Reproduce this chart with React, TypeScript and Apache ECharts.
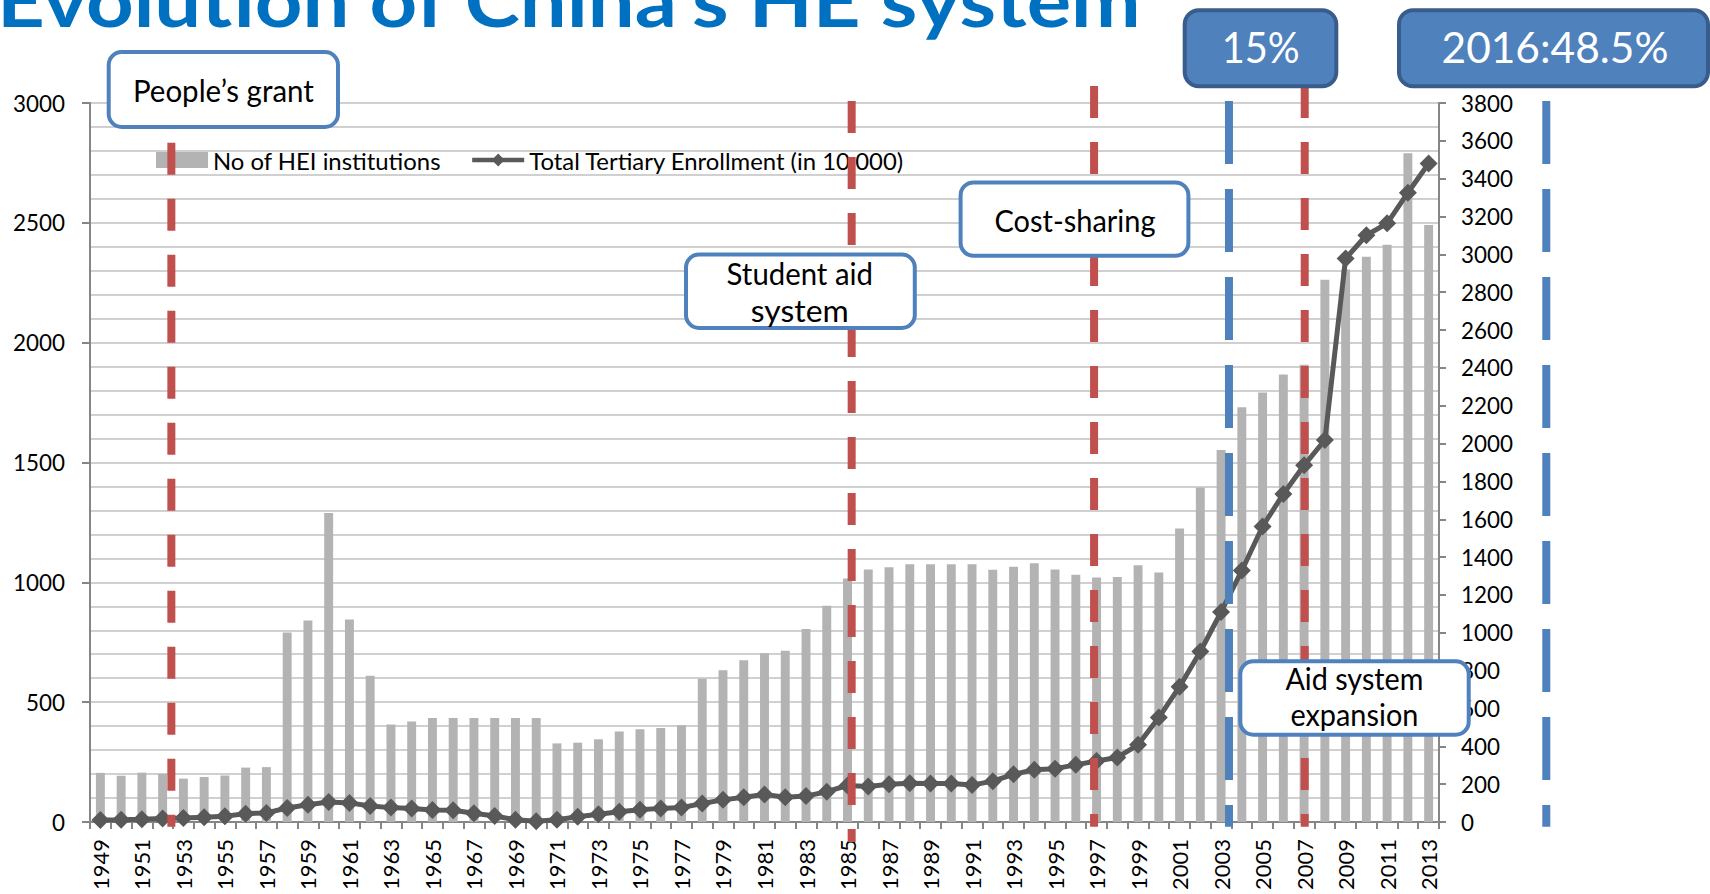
import React, { useEffect, useRef } from "react";
import * as echarts from "echarts";

// ---------------- data ----------------
const years = [
  "1949", "1950", "1951", "1952", "1953", "1954", "1955", "1956", "1957", "1958",
  "1959", "1960", "1961", "1962", "1963", "1964", "1965", "1966", "1967", "1968",
  "1969", "1970", "1971", "1972", "1973", "1974", "1975", "1976", "1977", "1978",
  "1979", "1980", "1981", "1982", "1983", "1984", "1985", "1986", "1987", "1988",
  "1989", "1990", "1991", "1992", "1993", "1994", "1995", "1996", "1997", "1998",
  "1999", "2000", "2001", "2002", "2003", "2004", "2005", "2006", "2007", "2008",
  "2009", "2010", "2011", "2012", "2013",
];

const heiInstitutions = [
  205, 193, 206, 201, 181, 188, 194, 227, 229, 791,
  841, 1289, 845, 610, 407, 419, 434, 434, 434, 434,
  434, 434, 328, 331, 345, 378, 387, 392, 404, 598,
  633, 675, 704, 715, 805, 902, 1016, 1054, 1063, 1075,
  1075, 1075, 1075, 1053, 1065, 1080, 1054, 1032, 1020, 1022,
  1071, 1041, 1225, 1396, 1552, 1731, 1792, 1867, 1908, 2263,
  2305, 2358, 2409, 2790, 2491,
];

const tertiaryEnrollment = [
  11, 12, 15, 19, 21, 25, 31, 44, 48, 74,
  91, 106, 101, 85, 76, 71, 64, 62, 46, 32,
  12, 4, 12, 28, 41, 54, 65, 72, 76, 98,
  117, 131, 146, 131, 137, 160, 193, 188, 200, 205,
  204, 204, 195, 216, 252, 276, 282, 302, 322, 341,
  408, 552, 715, 901, 1110, 1329, 1562, 1734, 1885, 2019,
  2978, 3101, 3164, 3326, 3480,
];

const seriesNames = ["No of HEI institutions", "Total Tertiary Enrollment (in 10,000)"];
const leftAxisRange = [0, 3000, 500];
const rightAxisRange = [0, 3800, 200];
const titleText = "Evolution of China\u2019s HE system";

// policy markers (position on the year axis)
const policyYears = [1952.42, 1985.2, 1996.88, 2007.03];
const milestoneYears = [2003.38, 2018.67];

const policyLabels = ["People\u2019s grant", "Student aid\nsystem", "Cost-sharing", "Aid system\nexpansion"];
const milestoneLabels = ["15%", "2016:48.5%"];

// ---------------- helpers ----------------
const FONT = "Lato";
let measureCtx: CanvasRenderingContext2D | null = null;
function measure(text: string, font: string): number {
  if (!measureCtx) measureCtx = document.createElement("canvas").getContext("2d");
  if (!measureCtx) return text.length * 10;
  measureCtx.font = font;
  return measureCtx.measureText(text).width;
}

function fitSize(sample: string, targetWidth: number, weight = "normal"): number {
  const w = measure(sample, `${weight} 20px ${FONT}`);
  return (20 * targetWidth) / w;
}

export default function App() {
  const ref = useRef<HTMLDivElement>(null);

  useEffect(() => {
    if (!ref.current) return;
    const chart = echarts.init(ref.current, undefined, { renderer: "svg" });

    const axisFont = fitSize("3000", 52);
    const xFont = fitSize("1949", 51);
    const legendFont = fitSize(seriesNames[0], 228);

    const axisLineStyle = { color: "#868686", width: 2 };
    const gridColor = "#C0C0C0";
    const plain = (v: number) => String(v);

    chart.setOption({
      animation: false,
      textStyle: { fontFamily: FONT },
      grid: { left: 90, right: 271, top: 103, bottom: 72, containLabel: false },
      legend: {
        left: 151,
        top: 143,
        padding: 5,
        itemWidth: 52,
        itemHeight: 16,
        itemGap: 29,
        textStyle: { fontSize: legendFont, color: "#000", fontFamily: FONT },
        data: [
          { name: seriesNames[0], icon: "rect" },
          { name: seriesNames[1], lineStyle: { width: 4.5, color: "#595959" } },
        ],
      },
      xAxis: {
        type: "category",
        data: years,
        boundaryGap: true,
        axisLine: { show: true, lineStyle: axisLineStyle },
        axisTick: { show: true, interval: 0, length: 7, alignWithLabel: false, lineStyle: axisLineStyle },
        axisLabel: { interval: 1, rotate: 90, fontSize: xFont, color: "#000", margin: 17, fontFamily: FONT },
        splitLine: { show: false },
      },
      yAxis: [
        {
          type: "value",
          position: "left",
          min: leftAxisRange[0],
          max: leftAxisRange[1],
          interval: leftAxisRange[2],
          axisLine: { show: true, lineStyle: axisLineStyle },
          axisTick: { show: true, length: 8, lineStyle: axisLineStyle },
          axisLabel: { fontSize: axisFont, color: "#000", margin: 25, fontFamily: FONT, formatter: plain },
          splitLine: { show: true, lineStyle: { color: gridColor, width: 1.5 } },
          minorTick: { show: false, splitNumber: 5 },
          minorSplitLine: { show: true, lineStyle: { color: gridColor, width: 1.5 } },
        },
        {
          type: "value",
          position: "right",
          min: rightAxisRange[0],
          max: rightAxisRange[1],
          interval: rightAxisRange[2],
          axisLine: { show: true, lineStyle: axisLineStyle },
          axisTick: { show: true, length: 7, lineStyle: axisLineStyle },
          axisLabel: { fontSize: axisFont, color: "#000", margin: 22, fontFamily: FONT, formatter: plain },
          splitLine: { show: false },
        },
      ],
      series: [
        {
          name: seriesNames[0],
          type: "bar",
          yAxisIndex: 0,
          data: heiInstitutions,
          barWidth: "43%",
          itemStyle: { color: "#B3B3B3" },
        },
        {
          name: seriesNames[1],
          type: "line",
          yAxisIndex: 1,
          data: tertiaryEnrollment,
          symbol: "diamond",
          symbolSize: 18,
          showAllSymbol: true,
          itemStyle: { color: "#595959" },
          lineStyle: { color: "#595959", width: 5 },
        },
      ],
    });

    // positions along the category axis
    const p0 = chart.convertToPixel({ xAxisIndex: 0 }, years[0]) as number;
    const p1 = chart.convertToPixel({ xAxisIndex: 0 }, years[1]) as number;
    const xAt = (y: number) => p0 + (y - Number(years[0])) * (p1 - p0);

    const RED = "#C0504D";
    const BLUE = "#4F81BD";
    const DARK = "#385D8A";

    const redSpans = [
      [142.8, 826.7],
      [101, 842],
      [86, 826.7],
      [86, 826.7],
    ];
    const blueSpans = [
      [101, 826.7],
      [101, 826.7],
    ];

    const elements: any[] = [];
    policyYears.forEach((yr, i) => {
      const x = xAt(yr);
      elements.push({
        type: "line",
        z: 100,
        shape: { x1: x, y1: redSpans[i][0], x2: x, y2: redSpans[i][1] },
        style: { stroke: RED, lineWidth: 8, lineDash: [32, 24], fill: null },
      });
    });
    milestoneYears.forEach((yr, i) => {
      const x = xAt(yr);
      elements.push({
        type: "line",
        z: 100,
        shape: { x1: x, y1: blueSpans[i][0], x2: x, y2: blueSpans[i][1] },
        style: { stroke: BLUE, lineWidth: 8, lineDash: [63, 25], fill: null },
      });
    });

    const textEl = (
      text: string,
      cx: number,
      cy: number,
      size: number,
      target: number,
      color: string,
      weight = "normal",
      align = "center"
    ) => {
      const w = measure(text, `${weight} ${size}px ${FONT}`);
      return {
        type: "text",
        z: 120,
        x: cx,
        y: cy,
        scaleX: target / w,
        style: {
          text,
          fontFamily: FONT,
          fontSize: size,
          fontWeight: weight,
          fill: color,
          align,
          textAlign: align,
          verticalAlign: "middle",
          textVerticalAlign: "middle",
        },
      };
    };

    const whiteBox = (x: number, y: number, w: number, h: number) => ({
      type: "rect",
      z: 110,
      shape: { x: x + 2, y: y + 2, width: w - 4, height: h - 4, r: 13 },
      style: { fill: "#FFFFFF", stroke: BLUE, lineWidth: 4 },
    });
    const blueBox = (x: number, y: number, w: number, h: number) => ({
      type: "rect",
      z: 110,
      shape: { x: x + 2, y: y + 2, width: w - 4, height: h - 4, r: 14 },
      style: { fill: BLUE, stroke: DARK, lineWidth: 4 },
    });

    const TS = 30; // annotation text size
    const off = 0.387 * TS;

    // People's grant
    elements.push(whiteBox(106.7, 50, 233.3, 79));
    elements.push(textEl(policyLabels[0], 223.4, 101.7 - off, TS, 181, "#000"));
    // Student aid system
    const sa = policyLabels[1].split("\n");
    elements.push(whiteBox(684, 252.6, 232.8, 77.4));
    elements.push(textEl(sa[0], 799.8, 285 - off, TS, 146.5, "#000"));
    elements.push(textEl(sa[1], 799.8, 321.6 - off, TS, 98, "#000"));
    // Cost-sharing
    elements.push(whiteBox(958.6, 180.4, 231.8, 77.4));
    elements.push(textEl(policyLabels[2], 1075, 231.7 - off, TS, 161, "#000"));
    // Aid system expansion
    const ae = policyLabels[3].split("\n");
    elements.push(whiteBox(1238.3, 659.3, 232.4, 77.4));
    elements.push(textEl(ae[0], 1354.4, 690 - off, TS, 138, "#000"));
    elements.push(textEl(ae[1], 1354.4, 726 - off, TS, 128, "#000"));

    // milestone boxes
    const MS = 42;
    elements.push(blueBox(1182.7, 8.3, 155.6, 80));
    elements.push(textEl(milestoneLabels[0], 1260.7, 63.3 - 0.387 * MS, MS, 78, "#FFFFFF"));
    elements.push(blueBox(1397, 8.3, 313, 80));
    elements.push(textEl(milestoneLabels[1], 1555, 63.3 - 0.387 * MS, MS, 227, "#FFFFFF"));

    // title
    const TT = 72;
    elements.push(textEl(titleText, -3, 27 - 0.387 * TT, TT, 1146, "#0070C0", "bold", "left"));

    chart.setOption({ graphic: { elements } });

    return () => chart.dispose();
  }, []);

  return (
    <div
      ref={ref}
      style={{ position: "fixed", left: 0, top: 0, width: 1710, height: 894, background: "#fff" }}
    />
  );
}
